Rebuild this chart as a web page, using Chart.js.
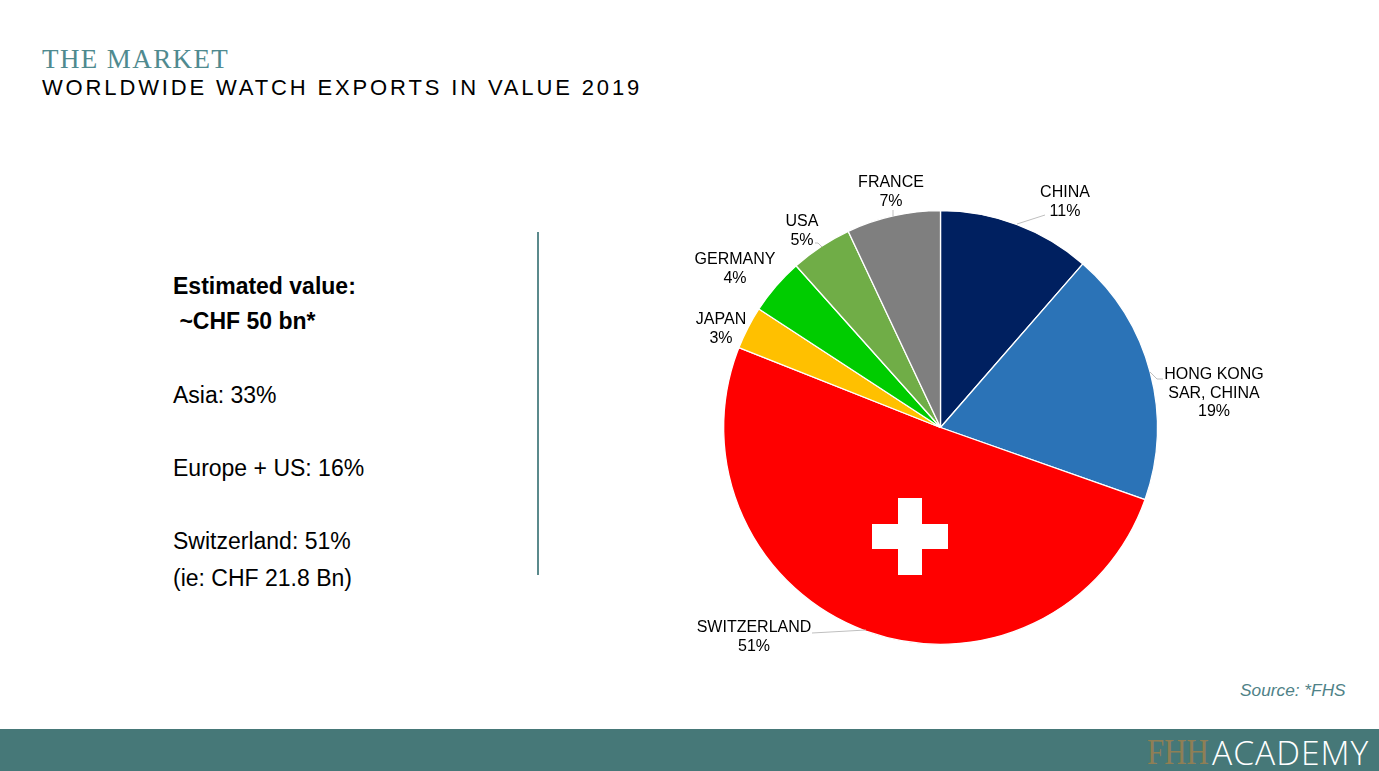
<!DOCTYPE html>
<html>
<head>
<meta charset="utf-8">
<title>Worldwide watch exports in value 2019</title>
<script src="https://cdn.jsdelivr.net/npm/chart.js@4"></script>
<style>
  html, body { margin: 0; padding: 0; background: #fff; }
  body { position: relative; width: 1379px; height: 771px; overflow: hidden; font-family: "Liberation Sans", Arial, sans-serif; color: #000; }
  .abs { position: absolute; white-space: pre; }
  #kicker { left: 42px; top: 44px; font: 27px/30px "Liberation Serif", serif; letter-spacing: 1.4px; color: #4f8a8f; }
  #title { left: 42px; top: 75px; font-size: 22px; line-height: 26px; letter-spacing: 2.86px; }
  .side { left: 173px; font-size: 23px; line-height: 26px; }
  #divider { left: 537px; top: 232px; width: 2px; height: 343px; background: #5b8a8c; }
  #chartBox { left: 540px; top: 150px; width: 800px; height: 530px; }
  .cross { position: absolute; background: #fff; }
  #source { left: 1240px; top: 680px; font-size: 17.3px; line-height: 20px; font-style: italic; color: #4f8287; }
  #footer { left: 0; top: 729px; width: 1379px; height: 42px; background: #467878; }
  #logoFhh { left: 1147px; top: 736px; font: 36px/32px "Liberation Serif", serif; color: #8f7f55; transform: scaleX(.86); transform-origin: left center; }
  #logoAcademy { left: 1212px; top: 736px; font: 33.6px/32px "Open Sans", sans-serif; font-weight: 300; letter-spacing: 1px; color: #fff; }
</style>
</head>
<body>
<div class="abs" id="kicker">THE MARKET</div>
<div class="abs" id="title">WORLDWIDE WATCH EXPORTS IN VALUE 2019</div>

<div class="abs side" style="top:273px;font-weight:bold">Estimated value:</div>
<div class="abs side" style="top:308px;font-weight:bold"> ~CHF 50 bn*</div>
<div class="abs side" style="top:382px">Asia: 33%</div>
<div class="abs side" style="top:455px">Europe + US: 16%</div>
<div class="abs side" style="top:528px">Switzerland: 51%</div>
<div class="abs side" style="top:565px">(ie: CHF 21.8 Bn)</div>
<div class="abs" id="divider"></div>

<div class="abs" id="chartBox"><canvas id="pie"></canvas></div>
<div class="cross" style="left:898px;top:498px;width:24px;height:77px"></div>
<div class="cross" style="left:872px;top:524px;width:76px;height:25px"></div>

<div class="abs" id="source">Source: *FHS</div>
<div class="abs" id="footer"></div>
<div class="abs" id="logoFhh">FHH</div>
<div class="abs" id="logoAcademy">ACADEMY</div>

<script>
// data
const countries = ["CHINA", "HONG KONG|SAR, CHINA", "SWITZERLAND", "JAPAN", "GERMANY", "USA", "FRANCE"];
const shares = [11.4, 19, 50.6, 3.2, 4.2, 4.6, 7];
const shareLabels = ["11%", "19%", "51%", "3%", "4%", "5%", "7%"];
const sliceColors = ["#002060", "#2B73B7", "#FF0000", "#FFC000", "#00CC00", "#70AD47", "#7F7F7F"];

// label centre and leader line per slice, page pixels
const labelSpots = [[1065, 185], [1214, 367], [754, 620], [721, 312], [735, 252], [802, 214], [891, 175]];
const leaders = [
  [[1045, 215], [1017, 224]],
  [[1163, 379], [1157, 379], [1150, 372]],
  [[812, 633], [866, 630]],
  null,
  null,
  [[815, 243], [818, 243], [822, 247]],
  [[893, 210], [893, 216]]
];

const BOX_LEFT = 540, BOX_TOP = 150;

const labelPlugin = {
  id: "sliceLabels",
  afterDatasetsDraw(chart) {
    const ctx = chart.ctx;
    ctx.save();
    ctx.strokeStyle = "#bfbfbf";
    ctx.lineWidth = 1;
    leaders.forEach(l => {
      if (!l) return;
      ctx.beginPath();
      l.forEach((p, k) => {
        if (k === 0) ctx.moveTo(p[0] - BOX_LEFT, p[1] - BOX_TOP);
        else ctx.lineTo(p[0] - BOX_LEFT, p[1] - BOX_TOP);
      });
      ctx.stroke();
    });
    ctx.fillStyle = "#000";
    ctx.font = '16px "Liberation Sans", Arial, sans-serif';
    ctx.textAlign = "center";
    ctx.textBaseline = "top";
    countries.forEach((name, i) => {
      const lines = name.split("|").concat(shareLabels[i]);
      lines.forEach((txt, k) => {
        ctx.fillText(txt, labelSpots[i][0] - BOX_LEFT, labelSpots[i][1] - BOX_TOP + k * 18.5);
      });
    });
    ctx.restore();
  }
};

new Chart(document.getElementById("pie").getContext("2d"), {
  type: "pie",
  data: {
    labels: countries.map(c => c.replace("|", " ")),
    datasets: [{
      data: shares,
      backgroundColor: sliceColors,
      borderColor: "#fff",
      borderWidth: 1.3
    }]
  },
  options: {
    responsive: true,
    maintainAspectRatio: false,
    animation: false,
    // leaves a 435px circle centred near 941,428 on the page
    layout: { padding: { left: 183, right: 182, top: 60, bottom: 35 } },
    plugins: { legend: { display: false }, tooltip: { enabled: false }, title: { display: false } }
  },
  plugins: [labelPlugin]
});
</script>
</body>
</html>
